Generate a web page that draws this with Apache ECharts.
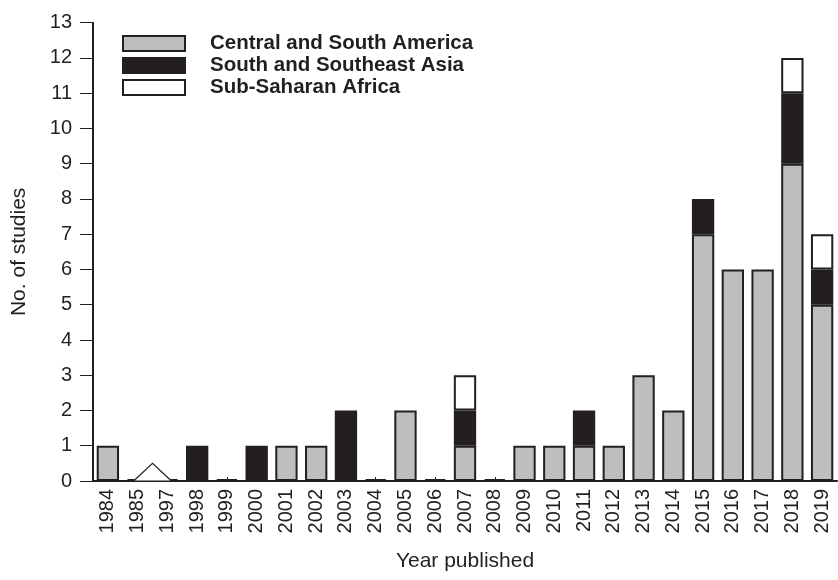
<!DOCTYPE html>
<html><head><meta charset="utf-8">
<script src="https://cdn.jsdelivr.net/npm/echarts@6/dist/echarts.min.js"></script>
<style>html,body{margin:0;padding:0;background:#fff}#c{width:838px;height:580px}</style>
</head><body><div id="c"></div>
<script>
var years = ['1984','1985','1997','1998','1999','2000','2001','2002','2003','2004','2005','2006','2007','2008','2009','2010','2011','2012','2013','2014','2015','2016','2017','2018','2019'];
var centralSouthAmerica = [1,0,0,0,0,0,1,1,0,0,2,0,1,0,1,1,1,1,3,2,7,6,6,9,5];
var southSoutheastAsia  = [0,0,0,1,0,1,0,0,2,0,0,0,1,0,0,0,1,0,0,0,1,0,0,2,1];
var subSaharanAfrica    = [0,0,0,0,0,0,0,0,0,0,0,0,1,0,0,0,0,0,0,0,0,0,0,1,1];
var seriesNames = ['Central and South America','South and Southeast Asia','Sub-Saharan Africa'];
var yTicks = {min:0, max:13, interval:1};
var axisBreak = {from:'1985', to:'1997', peak:0.5};

var ink = '#231f20';
var font = '"Liberation Sans", Arial, sans-serif';
var chart = echarts.init(document.getElementById('c'), null, {renderer:'canvas'});
function nz(arr){ return arr.map(function(v){ return v === 0 ? null : v; }); }
function barSeries(name, data, color, extra){
  var s = {name:name, type:'bar', stack:'s', data:data, barCategoryGap:'25%',
    itemStyle:{color:color, borderColor:ink, borderWidth:2}, emphasis:{disabled:true}};
  for (var k in (extra||{})) s[k] = extra[k];
  return s;
}
chart.setOption({
  animation:false,
  grid:{left:93, right:1, top:22.7, bottom:99, containLabel:false},
  legend:{orient:'vertical', left:117, top:28, itemWidth:62, itemHeight:15, itemGap:1,
    data:seriesNames, icon:'rect',
    textStyle:{fontFamily:font, fontWeight:'bold', fontSize:20.5, color:ink, padding:[0,0,0,20]}},
  xAxis:{type:'category', data:years,
    name:'Year published', nameLocation:'middle', nameGap:70,
    nameTextStyle:{fontFamily:font, fontSize:21, color:ink},
    axisLine:{lineStyle:{color:ink, width:2}},
    axisTick:{show:true, inside:true, alignWithLabel:true, length:4, lineStyle:{color:ink, width:1}},
    axisLabel:{rotate:90, fontFamily:font, fontSize:20, color:ink, margin:8, interval:0}},
  yAxis:{type:'value', min:yTicks.min, max:yTicks.max, interval:yTicks.interval,
    name:'No. of studies', nameLocation:'middle', nameGap:63, nameRotate:90,
    nameTextStyle:{fontFamily:font, fontSize:21, color:ink},
    axisLine:{show:true, lineStyle:{color:ink, width:2}},
    axisTick:{show:true, length:13, lineStyle:{color:ink, width:1}},
    splitLine:{show:false},
    axisLabel:{fontFamily:font, fontSize:20, color:ink, margin:21}},
  series:[
    barSeries(seriesNames[0], centralSouthAmerica, '#bcbec0', {barMinHeight:2}),
    barSeries(seriesNames[1], nz(southSoutheastAsia), ink),
    barSeries(seriesNames[2], nz(subSaharanAfrica), '#ffffff'),
    {type:'custom', data:[[axisBreak.from, axisBreak.peak]], z:10, silent:true,
      renderItem:function(params, api){
        var a = api.coord([axisBreak.from, 0]);
        var b = api.coord([axisBreak.to, 0]);
        var w = api.size([1,0])[0];
        var x1 = a[0] - w*0.1, x2 = b[0] + w*0.1;
        var p = api.coord([axisBreak.from, axisBreak.peak]);
        var mid = [(x1+x2)/2, p[1]];
        var y0 = a[1] - 1;
        return {type:'group', children:[
          {type:'polygon', shape:{points:[[x1,y0+0.5],[mid[0],mid[1]],[x2,y0+0.5]]}, style:{fill:'#fff'}},
          {type:'rect', shape:{x:x1, y:y0-4, width:x2-x1, height:4}, style:{fill:'#fff'}},
          {type:'polyline', shape:{points:[[x1,y0],[mid[0],mid[1]],[x2,y0]]}, style:{stroke:ink, lineWidth:1.2, fill:null}}
        ]};
      }}
  ]
});
</script></body></html>
